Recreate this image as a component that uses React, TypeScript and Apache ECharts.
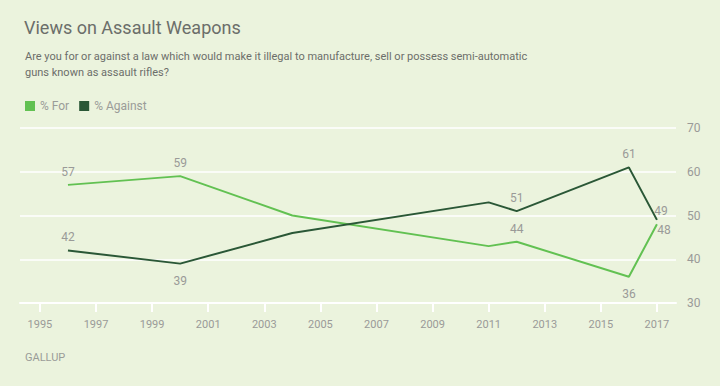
import React, { useEffect, useRef } from "react";
import * as echarts from "echarts";

const years = [1996, 2000, 2004, 2011, 2012, 2016, 2017];
const forValues = [57, 59, 50, 43, 44, 36, 48];
const againstValues = [42, 39, 46, 53, 51, 61, 49];
const xTickLabels = [1995, 1997, 1999, 2001, 2003, 2005, 2007, 2009, 2011, 2013, 2015, 2017];
const yTicks = [30, 40, 50, 60, 70];

// which points carry a value label (style only)
const forLabelPos: (string | null)[] = ["top", "top", null, null, "top", "bottom", "br"];
const againstLabelPos: (string | null)[] = ["top", "bottom", null, null, "top", "top", "tr"];

const FOR_COLOR = "#62c152";
const AGAINST_COLOR = "#2a5736";
const LABEL_COLOR = "#9a9a98";
const FONT = "Roboto, 'Noto Sans', sans-serif";

function makeData(vals: number[], pos: (string | null)[]) {
  return vals.map((v, i) => {
    const p = pos[i];
    const item: any = { value: [years[i], v] };
    if (!p) {
      item.label = { show: false };
    } else if (p === "top") {
      item.label = { show: true, position: "top", distance: 7 };
    } else if (p === "bottom") {
      item.label = { show: true, position: "bottom", distance: 11 };
    } else if (p === "br") {
      item.label = { show: true, position: "bottom", distance: 0, offset: [7, 0] };
    } else if (p === "tr") {
      item.label = { show: true, position: "top", distance: 3, offset: [4, 0] };
    }
    return item;
  });
}

export default function App() {
  const ref = useRef<HTMLDivElement>(null);
  useEffect(() => {
    if (!ref.current) return;
    const chart = echarts.init(ref.current, null, { renderer: "svg" });
    const labelStyle = {
      color: LABEL_COLOR,
      fontSize: 12,
      fontFamily: FONT,
    };
    chart.setOption({
      animation: false,
      backgroundColor: "#ebf3dd",
      textStyle: { fontFamily: FONT },
      title: [
        {
          text: "Views on Assault Weapons",
          left: 19,
          top: 13,
          textStyle: { color: "#6b6e6a", fontSize: 18, fontWeight: "normal", fontFamily: FONT },
        },
        {
          text:
            "Are you for or against a law which would make it illegal to manufacture, sell or possess semi-automatic\nguns known as assault rifles?",
          left: 20,
          top: 43,
          textStyle: {
            color: "#6b6e6a",
            fontSize: 11,
            fontWeight: "normal",
            lineHeight: 16,
            fontFamily: FONT,
          },
        },
        {
          text: "GALLUP",
          left: 20,
          top: 347,
          textStyle: {
            color: "#9a9c98",
            fontSize: 11,
            fontWeight: "normal",
            fontFamily: FONT,
          },
        },
      ],
      legend: {
        left: 20,
        top: 95,
        icon: "rect",
        itemWidth: 10,
        itemHeight: 10,
        itemGap: 10,
        textStyle: { color: "#9a9c98", fontSize: 12, fontFamily: FONT },
        data: ["% For", "% Against"],
      },
      grid: { left: 20, right: 44, top: 128, bottom: 83, containLabel: false },
      xAxis: {
        type: "value",
        min: 1994.29,
        max: 2017.68,
        axisLine: { show: true, lineStyle: { color: "#ffffff", width: 2 } },
        axisTick: {
          show: true,
          customValues: xTickLabels,
          length: 9,
          lineStyle: { color: "#ffffff", width: 2 },
        },
        axisLabel: {
          customValues: xTickLabels,
          color: LABEL_COLOR,
          fontSize: 11,
          margin: 16,
          formatter: (v: number) => String(v),
        },
        splitLine: { show: false },
      },
      yAxis: {
        type: "value",
        position: "right",
        min: 30,
        max: 70,
        interval: 10,
        axisLine: { show: false },
        axisTick: { show: false },
        axisLabel: {
          color: LABEL_COLOR,
          fontSize: 12,
          margin: 11,
          customValues: yTicks,
        },
        splitLine: { show: true, lineStyle: { color: "#ffffff", width: 1.5 } },
      },
      series: [
        {
          name: "% For",
          type: "line",
          data: makeData(forValues, forLabelPos),
          symbol: "circle",
          symbolSize: 0.01,
          showSymbol: true,
          color: FOR_COLOR,
          lineStyle: { color: FOR_COLOR, width: 2 },
          label: labelStyle,
          z: 3,
        },
        {
          name: "% Against",
          type: "line",
          data: makeData(againstValues, againstLabelPos),
          symbol: "circle",
          symbolSize: 0.01,
          showSymbol: true,
          color: AGAINST_COLOR,
          lineStyle: { color: AGAINST_COLOR, width: 2 },
          label: labelStyle,
          z: 4,
        },
      ],
    });
    return () => chart.dispose();
  }, []);
  return (
    <div
      ref={ref}
      style={{ position: "absolute", left: 0, top: 0, width: 720, height: 386 }}
    />
  );
}
